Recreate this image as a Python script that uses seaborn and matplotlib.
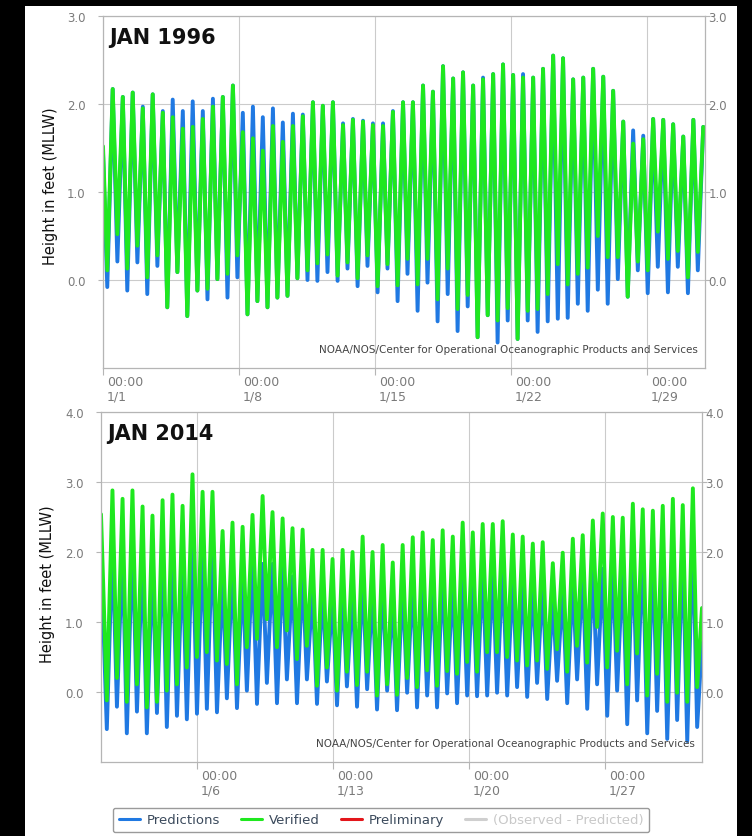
import numpy as np
import pandas as pd
import matplotlib
matplotlib.use("Agg")
import matplotlib.pyplot as plt
import matplotlib.transforms as mtransforms
from matplotlib.lines import Line2D
from matplotlib.patches import Rectangle
import seaborn as sns

# ---------------- data (days after Jan 1 00:00, feet MLLW) ----------------
# JAN 1996
hw_day_1996 = [0.50, 1.02, 1.53, 2.05, 2.56, 3.08, 3.59, 4.11, 4.62, 5.14,
               5.66, 6.17, 6.69, 7.20, 7.72, 8.23, 8.75, 9.26, 9.78, 10.29,
               10.81, 11.32, 11.84, 12.36, 12.87, 13.39, 13.90, 14.42, 14.93, 15.45,
               15.96, 16.48, 16.99, 17.51, 18.03, 18.54, 19.06, 19.57, 20.09, 20.60,
               21.12, 21.63, 22.15, 22.66, 23.18, 23.69, 24.21, 24.73, 25.24, 25.76,
               26.27, 26.79, 27.30, 27.82, 28.33, 28.85, 29.36, 29.88, 30.40, 30.91]
hw_ver_1996 = [2.17, 2.08, 2.13, 1.95, 2.11, 1.90, 1.85, 1.72, 1.74, 1.83,
               1.97, 2.08, 2.21, 1.68, 1.61, 1.47, 1.75, 1.57, 1.75, 1.86,
               2.02, 1.98, 2.02, 1.76, 1.82, 1.80, 1.76, 1.75, 1.91, 2.02,
               2.02, 2.21, 2.14, 2.43, 2.29, 2.36, 2.21, 2.28, 2.34, 2.45,
               2.33, 2.30, 2.30, 2.40, 2.55, 2.52, 2.28, 2.30, 2.40, 2.31,
               2.15, 1.80, 1.55, 1.60, 1.83, 1.82, 1.77, 1.63, 1.82, 1.74]
hw_pred_1996 = [2.17, 2.08, 2.13, 1.97, 2.11, 1.92, 2.05, 1.92, 2.03, 1.92,
                2.06, 2.08, 2.21, 1.90, 1.97, 1.85, 1.95, 1.79, 1.89, 1.88,
                2.02, 1.98, 2.02, 1.78, 1.83, 1.81, 1.78, 1.78, 1.92, 2.02,
                2.02, 2.21, 2.14, 2.43, 2.29, 2.36, 2.21, 2.30, 2.34, 2.45,
                2.33, 2.34, 2.30, 2.40, 2.55, 2.52, 2.28, 2.30, 2.40, 2.31,
                2.15, 1.80, 1.70, 1.64, 1.83, 1.82, 1.77, 1.63, 1.82, 1.74]
lw_day_1996 = [0.22, 0.74, 1.25, 1.77, 2.28, 2.80, 3.31, 3.83, 4.34, 4.86,
               5.38, 5.89, 6.41, 6.92, 7.44, 7.95, 8.47, 8.98, 9.50, 10.01,
               10.53, 11.04, 11.56, 12.08, 12.59, 13.11, 13.62, 14.14, 14.65, 15.17,
               15.68, 16.20, 16.71, 17.23, 17.75, 18.26, 18.78, 19.29, 19.81, 20.32,
               20.84, 21.35, 21.87, 22.38, 22.90, 23.42, 23.93, 24.45, 24.96, 25.48,
               25.99, 26.51, 27.02, 27.54, 28.05, 28.57, 29.09, 29.60, 30.12, 30.63]
lw_ver_1996 = [0.11, 0.52, 0.13, 0.39, 0.03, 0.28, -0.31, 0.09, -0.41, -0.12,
               -0.10, 0.01, 0.07, 0.28, -0.39, -0.24, -0.31, -0.20, -0.18, 0.02,
               0.11, 0.19, 0.29, 0.05, 0.20, 0.02, 0.28, -0.07, 0.18, -0.06,
               0.24, -0.05, 0.24, -0.22, 0.13, -0.33, -0.17, -0.65, -0.40, -0.46,
               -0.32, -0.67, -0.35, -0.33, -0.16, 0.18, -0.05, 0.07, 0.14, 0.50,
               0.26, 0.26, -0.19, 0.21, 0.11, 0.55, 0.24, 0.33, 0.03, 0.32]
lw_pred_1996 = [-0.08, 0.21, -0.12, 0.20, -0.16, 0.16, -0.31, 0.09, -0.41, -0.12,
                -0.22, 0.01, -0.20, 0.03, -0.39, -0.24, -0.31, -0.20, -0.18, 0.02,
                0.00, -0.01, 0.09, -0.01, 0.13, -0.07, 0.16, -0.14, 0.13, -0.24,
                0.07, -0.35, -0.03, -0.47, -0.16, -0.58, -0.30, -0.65, -0.40, -0.71,
                -0.46, -0.67, -0.46, -0.59, -0.47, -0.44, -0.43, -0.27, -0.35, -0.11,
                -0.27, 0.01, -0.19, 0.11, -0.15, 0.15, -0.14, 0.15, -0.15, 0.11]
ends_day_1996 = [0.0, 31.0]
ends_ver_1996 = [1.52, 1.72]
ends_pred_1996 = [1.45, 1.72]

# JAN 2014
hw_day_2014 = [0.65, 1.17, 1.68, 2.20, 2.71, 3.23, 3.74, 4.26, 4.77, 5.29,
               5.80, 6.32, 6.83, 7.35, 7.86, 8.38, 8.89, 9.41, 9.92, 10.44,
               10.95, 11.47, 11.98, 12.50, 13.01, 13.53, 14.04, 14.56, 15.08, 15.59,
               16.11, 16.62, 17.14, 17.65, 18.17, 18.68, 19.20, 19.71, 20.23, 20.74,
               21.26, 21.77, 22.29, 22.80, 23.32, 23.83, 24.35, 24.86, 25.38, 25.89,
               26.41, 26.92, 27.44, 27.95, 28.47, 28.98, 29.50, 30.01, 30.53]
hw_ver_2014 = [2.88, 2.76, 2.88, 2.65, 2.52, 2.74, 2.82, 2.66, 3.11, 2.86,
               2.86, 2.30, 2.42, 2.36, 2.53, 2.80, 2.57, 2.48, 2.34, 2.32,
               2.03, 2.03, 1.90, 2.03, 2.00, 2.22, 2.00, 2.10, 1.85, 2.10,
               2.21, 2.28, 2.17, 2.31, 2.22, 2.42, 2.28, 2.40, 2.40, 2.44,
               2.25, 2.22, 2.12, 2.14, 1.84, 1.99, 2.19, 2.24, 2.45, 2.55,
               2.50, 2.49, 2.69, 2.61, 2.59, 2.66, 2.76, 2.67, 2.91]
hw_pred_2014 = [2.15, 2.05, 2.20, 1.95, 1.85, 2.05, 2.15, 1.95, 2.30, 2.10,
                2.20, 1.65, 1.80, 1.70, 1.90, 1.83, 1.83, 1.82, 1.65, 1.70,
                1.45, 1.50, 1.35, 1.50, 1.45, 1.65, 1.45, 1.55, 1.35, 1.55,
                1.60, 1.65, 1.55, 1.70, 1.60, 1.76, 1.65, 1.76, 1.74, 1.80,
                1.65, 1.60, 1.55, 1.55, 1.35, 1.45, 1.60, 1.70, 1.80, 1.76,
                1.85, 1.80, 2.02, 2.02, 1.95, 2.00, 2.10, 2.05, 2.25]
lw_day_2014 = [0.36, 0.88, 1.39, 1.91, 2.42, 2.94, 3.45, 3.97, 4.48, 5.00,
               5.51, 6.03, 6.54, 7.06, 7.57, 8.09, 8.60, 9.12, 9.63, 10.15,
               10.66, 11.18, 11.69, 12.21, 12.72, 13.24, 13.76, 14.27, 14.79, 15.30,
               15.82, 16.33, 16.85, 17.36, 17.88, 18.39, 18.91, 19.42, 19.94, 20.45,
               20.97, 21.48, 22.00, 22.51, 23.03, 23.54, 24.06, 24.57, 25.09, 25.60,
               26.12, 26.63, 27.15, 27.66, 28.18, 28.69, 29.21, 29.72, 30.24, 30.75]
lw_ver_2014 = [-0.12, 0.20, -0.14, 0.11, -0.22, -0.14, 0.02, 0.11, 0.35, 0.50,
               0.57, 0.45, 0.40, 0.11, 0.64, 0.76, 1.04, 0.64, 0.88, 0.47,
               0.66, 0.09, 0.35, 0.02, 0.29, 0.10, 0.29, -0.05, 0.11, -0.04,
               0.20, 0.07, 0.31, 0.09, 0.30, 0.26, 0.43, 0.29, 0.57, 0.57,
               0.50, 0.45, 0.38, 0.45, 0.33, 0.61, 0.29, 0.66, 0.42, 0.93,
               0.35, 0.59, 0.11, 0.55, -0.05, 0.26, -0.14, -0.01, -0.14, 0.07]
lw_pred_2014 = [-0.53, -0.21, -0.59, -0.28, -0.59, -0.30, -0.50, -0.34, -0.39, -0.31,
                -0.24, -0.29, -0.09, -0.23, 0.02, -0.17, 0.13, -0.16, 0.18, -0.16,
                0.18, -0.17, 0.15, -0.19, 0.08, -0.21, 0.04, -0.25, 0.02, -0.26,
                -0.01, -0.22, -0.05, -0.22, -0.02, -0.16, -0.05, -0.06, -0.05, -0.01,
                -0.05, 0.07, -0.07, 0.13, -0.10, 0.16, -0.16, 0.18, -0.24, 0.11,
                -0.34, 0.02, -0.46, -0.12, -0.59, -0.27, -0.67, -0.40, -0.70, -0.50]
ends_day_2014 = [0.06, 31.0]
ends_ver_2014 = [2.54, 1.20]
ends_pred_2014 = [2.00, 0.70]

tick_days_1996 = [0, 7, 14, 21, 28]
tick_labels_1996 = ["00:00\n1/1", "00:00\n1/8", "00:00\n1/15", "00:00\n1/22", "00:00\n1/29"]
tick_days_2014 = [5, 12, 19, 26]
tick_labels_2014 = ["00:00\n1/6", "00:00\n1/13", "00:00\n1/20", "00:00\n1/27"]

series_names = ["Predictions", "Verified"]
legend_labels = ["Predictions", "Verified", "Preliminary", "(Observed - Predicted)"]

# ---------------- style ----------------
BLUE = "#2079e2"
GREEN = "#1fe81f"
RED = "#e3161b"
LGRAY = "#cfcfcf"
GRID = "#cbcbcb"
SPINE = "#b5b5b5"
TICKTXT = "#7a7a7a"

sns.set_theme(style="white")
plt.rcParams["font.family"] = ["DejaVu Sans"]

W, H = 752, 837
DPI = 100
fig = plt.figure(figsize=(W / DPI, H / DPI), dpi=DPI, facecolor="black")
fig.patches.append(Rectangle((25 / W, 0), (737 - 25) / W, (H - 7) / H,
                             transform=fig.transFigure, facecolor="white",
                             edgecolor="none", zorder=-10))


def px(dx, dy=0.0):
    return mtransforms.ScaledTranslation(dx / DPI, dy / DPI, fig.dpi_scale_trans)


def build_df(hd, hv, hp, ld, lv, lp, ed, ev, ep):
    days = list(hd) + list(ld) + list(ed)
    pred = list(hp) + list(lp) + list(ep)
    ver = list(hv) + list(lv) + list(ev)
    df = pd.DataFrame({
        "day": days + days,
        "ft": pred + ver,
        "series": ["Predictions"] * len(days) + ["Verified"] * len(days),
    })
    return df.sort_values(["series", "day"]).reset_index(drop=True)


def draw_panel(ax, df):
    sns.lineplot(data=df, x="day", y="ft", hue="series", hue_order=series_names,
                 palette=[BLUE, GREEN], sort=True, estimator=None, linewidth=2.8,
                 legend=False, ax=ax, solid_joinstyle="round", solid_capstyle="round")


def style_axes(ax, xlim, ylim, yticks, xt, xl, title, ylab_x, ylab_y):
    ax.set_facecolor("white")
    ax.set_xlim(*xlim)
    ax.set_ylim(*ylim)
    ax.set_yticks(yticks)
    ax.set_yticklabels([f"{v:.1f}" for v in yticks])
    ax.set_xticks(xt)
    ax.set_xticklabels(xl, ha="left", linespacing=1.2)
    ax.tick_params(axis="x", which="major", bottom=True, length=5, width=0.8,
                   color=SPINE, labelsize=9, labelcolor=TICKTXT, pad=0)
    ax.tick_params(axis="y", which="major", left=True, right=True, labelright=True,
                   length=3.5, width=0.8, color=SPINE, labelsize=8.5,
                   labelcolor=TICKTXT, pad=9)
    ax.grid(True, color=GRID, linewidth=0.8)
    for s in ax.spines.values():
        s.set_color(SPINE)
        s.set_linewidth(0.9)
    ax.set_xlabel("")
    ax.set_ylabel("")
    ax.text(0.011, 0.968, title, transform=ax.transAxes, ha="left", va="top",
            fontsize=15, fontweight="bold", color="#111111")
    ax.text(ylab_x, ylab_y, "Height in feet (MLLW)", transform=ax.transAxes,
            rotation=90, ha="center", va="center", fontsize=10.5, color="#111111")
    ax.text(0.988, 0.054, "NOAA/NOS/Center for Operational Oceanographic Products and Services",
            transform=ax.transAxes, ha="right", va="center", fontsize=7.5,
            color="#444444")


# top panel
ax1 = fig.add_axes([103 / W, 1 - 369 / H, 602 / W, 352 / H])
df1 = build_df(hw_day_1996, hw_ver_1996, hw_pred_1996, lw_day_1996, lw_ver_1996,
               lw_pred_1996, ends_day_1996, ends_ver_1996, ends_pred_1996)
draw_panel(ax1, df1)
style_axes(ax1, (0, 31.0), (-1, 3), [0, 1, 2, 3], tick_days_1996, tick_labels_1996,
           "JAN 1996", -53 / 602, 0.52)

# bottom panel
ax2 = fig.add_axes([101 / W, 1 - 763 / H, 601 / W, 350 / H])
df2 = build_df(hw_day_2014, hw_ver_2014, hw_pred_2014, lw_day_2014, lw_ver_2014,
               lw_pred_2014, ends_day_2014, ends_ver_2014, ends_pred_2014)
draw_panel(ax2, df2)
style_axes(ax2, (0.06, 31.0), (-1, 4), [0, 1, 2, 3, 4], tick_days_2014, tick_labels_2014,
           "JAN 2014", -53 / 601, 0.51)

for ax in (ax1, ax2):
    # date labels start a little to the right of their tick
    for lab in ax.get_xticklabels():
        lab.set_transform(lab.get_transform() + px(4, 0))
    # right-hand value labels sit close to the spine
    for t in ax.yaxis.get_major_ticks():
        t.label2.set_transform(t.label2.get_transform() + px(-14, 0))

# legend
handles = [Line2D([0], [0], color=c, linewidth=2.2) for c in (BLUE, GREEN, RED, LGRAY)]
leg = fig.legend(handles, legend_labels, ncol=4, loc="center",
                 bbox_to_anchor=(381 / W, 1 - 821 / H), frameon=True, fancybox=True,
                 fontsize=9.5, handlelength=1.6, handletextpad=0.5, columnspacing=1.6,
                 borderpad=0.45, edgecolor="#9a9a9a", facecolor="white", framealpha=1)
for txt, col in zip(leg.get_texts(), ["#3b4a5c", "#3b4a5c", "#3b4a5c", "#c8c8c8"]):
    txt.set_color(col)

fig.savefig("out.png", dpi=DPI, facecolor=fig.get_facecolor())
